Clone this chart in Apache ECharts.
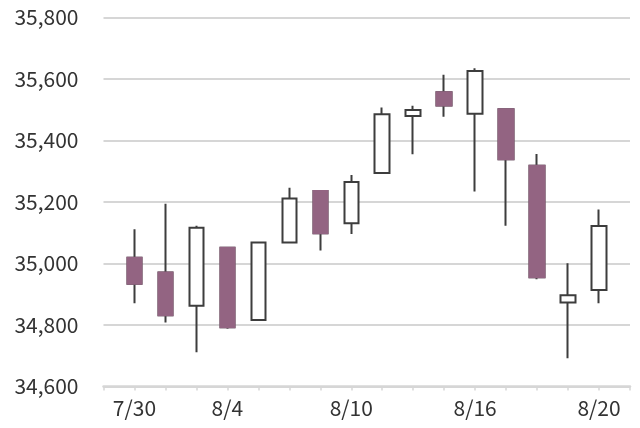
<!DOCTYPE html>
<html>
<head>
<meta charset="utf-8">
<script src="https://cdn.jsdelivr.net/npm/echarts@6/dist/echarts.min.js"></script>
<style>html,body{margin:0;padding:0;background:#fff}#c{width:640px;height:428px}</style>
</head>
<body>
<div id="c"></div>
<script>
// leading and trailing empty slots as in the reference axis
var categories = ['', '7/30','8/2','8/3','8/4','8/5','8/6','8/9','8/10','8/11','8/12','8/13','8/16','8/17','8/18','8/19','8/20', ' '];
var labelShown = ['7/30','8/4','8/10','8/16','8/20'];
var openVals  = ['-', 35019, 34971, 34863, 35051, 34816, 35068, 35236, 35131, 35294, 35480, 35557, 35487, 35502, 35318, 34873, 34914, '-'];
var closeVals = ['-', 34934, 34832, 35116, 34793, 35068, 35211, 35098, 35265, 35485, 35499, 35514, 35626, 35339, 34955, 34897, 35122, '-'];
var lowVals   = ['-', 34871, 34808, 34711, 34788, 34816, 35068, 35042, 35096, 35294, 35355, 35477, 35234, 35123, 34949, 34692, 34871, '-'];
var highVals  = ['-', 35111, 35194, 35123, 35051, 35068, 35246, 35236, 35288, 35507, 35513, 35614, 35635, 35502, 35356, 35001, 35176, '-'];
var yTicks = [34600, 34800, 35000, 35200, 35400, 35600, 35800];

var PURPLE = '#936482';
var DARK = '#3d3d3d';
var FONT = '"Noto Sans CJK KR", "Noto Sans", sans-serif';

var allData = categories.map(function (c, i) {
  if (openVals[i] === '-') return '-';
  return [openVals[i], closeVals[i], lowVals[i], highVals[i]];
});
var downBodies = categories.map(function (c, i) {
  if (openVals[i] !== '-' && closeVals[i] < openVals[i]) return [openVals[i], closeVals[i], closeVals[i], openVals[i]];
  return '-';
});

var chart = echarts.init(document.getElementById('c'), null, {renderer: 'canvas'});
chart.setOption({
  animation: false,
  grid: {left: 103.5, right: 10, top: 17.5, bottom: 41.5, containLabel: false},
  xAxis: {
    type: 'category',
    data: categories,
    boundaryGap: false,
    axisLine: {show: true, lineStyle: {color: '#d6d6d6', width: 2.5}},
    axisTick: {show: true, interval: 0, length: 4, lineStyle: {color: '#d6d6d6', width: 1.5}},
    axisLabel: {
      interval: function (idx, val) { return labelShown.indexOf(val) >= 0; },
      color: '#333', fontFamily: FONT, fontSize: 21, margin: 11
    },
    splitLine: {show: false}
  },
  yAxis: {
    type: 'value',
    min: yTicks[0], max: yTicks[yTicks.length - 1], interval: 200,
    axisLine: {show: false},
    axisTick: {show: false},
    axisLabel: {
      color: '#333', fontFamily: FONT, fontSize: 21, margin: 25,
      formatter: function (v) { return v.toLocaleString('en-US'); }
    },
    splitLine: {show: true, lineStyle: {color: '#d6d6d6', width: 2}}
  },
  series: [
    {
      type: 'candlestick',
      data: allData,
      barWidth: 15,
      itemStyle: {
        color: '#ffffff', color0: PURPLE,
        borderColor: DARK, borderColor0: DARK,
        borderWidth: 2
      }
    },
    {
      type: 'candlestick',
      data: downBodies,
      barWidth: 15,
      z: 3,
      itemStyle: {
        color: PURPLE, color0: PURPLE,
        borderColor: PURPLE, borderColor0: PURPLE,
        borderWidth: 2
      }
    }
  ]
});
</script>
</body>
</html>
